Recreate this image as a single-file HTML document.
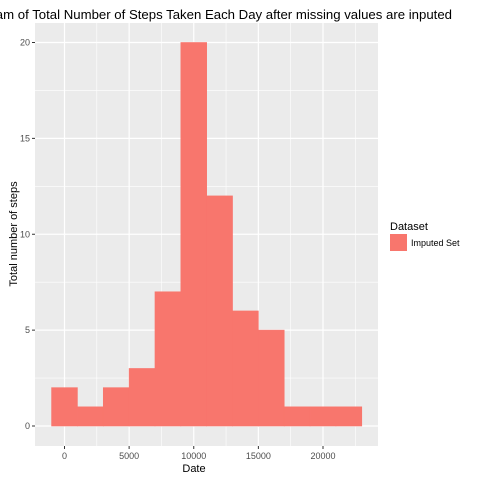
<!DOCTYPE html>
<html><head><meta charset="utf-8"><style>
body{margin:0;background:#fff;font-family:"Liberation Sans",Arial,sans-serif}
</style></head><body>
<svg width="480" height="480" xmlns="http://www.w3.org/2000/svg">
<text x="452" y="19" font-size="13.2" text-anchor="end" fill="#000">Histogram of Total Number of Steps Taken Each Day after missing values are inputed</text>
<rect x="35" y="23" width="343" height="423" fill="#ebebeb"/>
<g id="grid"></g>
<g id="bars"></g>
<g id="axes" font-size="9" fill="#4d4d4d"></g>
<text x="194" y="472" font-size="11" text-anchor="middle">Date</text>
<text transform="translate(17,234) rotate(-90)" font-size="11" text-anchor="middle">Total number of steps</text>
<g>
<text x="390" y="230" font-size="11">Dataset</text>
<rect x="390" y="234" width="17" height="17" fill="#f8766d"/>
<text x="411" y="246" font-size="9">Imputed Set</text>
</g>
</svg>
<script>
const binStarts=[-1000,1000,3000,5000,7000,9000,11000,13000,15000,17000,19000,21000];
const counts=[2,1,2,3,7,20,12,6,5,1,1,1];
const binWidth=2000;
const xTicks=[0,5000,10000,15000,20000];
const yTicks=[0,5,10,15,20];
const ns="http://www.w3.org/2000/svg";
const X=v=>64.5+v*(323-64.5)/20000;
const Y=v=>426-v*(426-42.5)/20;
function mk(t,a,p){const e=document.createElementNS(ns,t);for(const k in a)e.setAttribute(k,a[k]);p.appendChild(e);return e;}
const g=document.getElementById('grid'),b=document.getElementById('bars'),ax=document.getElementById('axes');
xTicks.forEach((v,i)=>{
 if(i<xTicks.length-1){const m=mk('line',{x1:X(v+2500),x2:X(v+2500),y1:23,y2:446,stroke:'#fff','stroke-width':0.6},g);
 }
 const l=mk('line',{x1:X(v),x2:X(v),y1:23,y2:446,stroke:'#fff','stroke-width':1.2},g);
 
 const t=mk('text',{x:X(v),y:459,'text-anchor':'middle'},ax);t.textContent=v;
 
 mk('line',{x1:X(v),x2:X(v),y1:446,y2:449,stroke:'#333'},ax);
});
[X(-2500),X(22500)].forEach(x=>{const m=mk('line',{x1:x,x2:x,y1:23,y2:446,stroke:'#fff','stroke-width':0.6},g);
 });
yTicks.forEach((v,i)=>{
 if(i<yTicks.length-1){const m=mk('line',{x1:35,x2:378,y1:Y(v+2.5),y2:Y(v+2.5),stroke:'#fff','stroke-width':0.6},g);
 }
 const l=mk('line',{x1:35,x2:378,y1:Y(v),y2:Y(v),stroke:'#fff','stroke-width':1.2},g);
 
 const t=mk('text',{x:30,y:Y(v)+3,'text-anchor':'end'},ax);t.textContent=v;
 
 mk('line',{x1:32,x2:35,y1:Y(v),y2:Y(v),stroke:'#333'},ax);
});
binStarts.forEach((s,i)=>{
 const r=mk('rect',{x:X(s),y:Y(counts[i]),width:X(s+binWidth)-X(s),height:Y(0)-Y(counts[i]),fill:'#f8766d',stroke:'#f8766d','stroke-width':0.6},b);
 
});
</script>
</body></html>
